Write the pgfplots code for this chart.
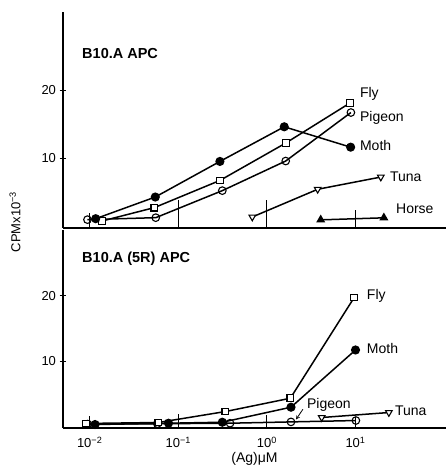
\documentclass[border=0pt]{standalone}
\usepackage{fontspec}
\setmainfont{Liberation Sans}
\usepackage{pgfplots}
\pgfplotsset{compat=1.18}
\tikzset{
  op/.style={mark=o, mark options={fill=white, line width=1.1pt}},
  fc/.style={mark=*, mark options={fill=black}},
  sq/.style={mark=square*, mark options={fill=white, line width=1.1pt}, mark size=3.4pt},
  tv/.style={mark=triangle*, mark options={fill=white, rotate=180, line width=1.1pt}},
  tf/.style={mark=triangle*, mark options={fill=black}},
  lab/.style={anchor=west, font=\fontsize{14}{14}\selectfont, inner sep=0pt},
  ttl/.style={anchor=west, font=\bfseries\fontsize{14.5}{14.5}\selectfont, inner sep=0pt},
  tk/.style={line width=0.9pt},
}
\pgfplotsset{
  every axis/.append style={
    scale only axis, width=383pt, xmin=0.005, xmax=105,
    axis lines*=left, axis line style={line width=1.1pt},
    ytick={10,20}, yticklabels={10,20},
    major tick length=7pt, tick align=center,
    tick style={line width=0.9pt, black},
    xtick style={draw=none},
    /pgf/number format/assume math mode=true,
    yticklabel style={font=\fontsize{13}{13}\selectfont},
    xticklabel style={font=\fontsize{13}{13}\selectfont},
    clip=false,
  },
  every axis plot/.append style={line width=1.5pt, black, mark size=3.8pt},
}
\begin{document}
\begin{tikzpicture}[x=1pt,y=1pt]
\useasboundingbox (-63,-44) rectangle (383,428);
% ---------- top panel ----------
\begin{semilogxaxis}[at={(0,200pt)}, anchor=south west, height=216pt,
  ymin=-0.3, ymax=31.5, xtick=\empty]
\addplot[sq] coordinates {(0.0139,0.74) (0.0537,2.7) (0.295,6.7) (1.63,12.2) (8.65,18.1)};
\addplot[op] coordinates {(0.00944,0.93) (0.0557,1.22) (0.314,5.2) (1.63,9.56) (8.87,16.7)};
\addplot[fc] coordinates {(0.0117,1.07) (0.055,4.26) (0.295,9.5) (1.57,14.6) (8.81,11.6)};
\addplot[tv] coordinates {(0.684,1.32) (3.74,5.4) (19.3,7.2)};
\addplot[tf] coordinates {(4.05,0.9) (20.9,1.2)};
\draw[tk] (axis cs:0.01,-0.3) -- (axis cs:0.01,1.9);
\draw[tk] (axis cs:0.1,-0.3) -- (axis cs:0.1,3.8);
\draw[tk] (axis cs:1,-0.3) -- (axis cs:1,3.8);
\draw[tk] (axis cs:10,-0.3) -- (axis cs:10,2.4);
\node[ttl] at (axis cs:0.0082,25.4) {B10.A APC};
\node[lab] at (axis cs:11.2,19.4) {Fly};
\node[lab] at (axis cs:11.2,15.9) {Pigeon};
\node[lab] at (axis cs:11.2,11.8) {Moth};
\node[lab] at (axis cs:24.4,7.2) {Tuna};
\node[lab] at (axis cs:28.6,2.5) {Horse};
\end{semilogxaxis}
% ---------- bottom panel ----------
\begin{semilogxaxis}[at={(0,0)}, anchor=south west, height=198pt,
  ymin=-0.2, ymax=30,
  xtick={0.01,0.1,1,10},
  xticklabels={10\textsuperscript{−2},10\textsuperscript{−1},10\textsuperscript{0},10\textsuperscript{1}},
  xticklabel style={yshift=-2pt},
  xlabel={(Ag)μM}, xlabel style={font=\fontsize{14}{14}\selectfont, yshift=2pt}]
\addplot[op] coordinates {(0.0095,0.4) (0.058,0.45) (0.384,0.53) (1.87,0.73) (10.1,0.94)};
\addplot[sq] coordinates {(0.00912,0.49) (0.0597,0.64) (0.34,2.31) (1.84,4.34) (9.66,19.7)};
\addplot[fc] coordinates {(0.0115,0.33) (0.0776,0.53) (0.314,0.68) (1.87,2.97) (10,11.7)};
\addplot[tv] coordinates {(4.15,1.4) (23.8,2.16)};
\draw[tk] (axis cs:0.01,-0.2) -- (axis cs:0.01,1.6);
\draw[tk] (axis cs:0.1,-0.2) -- (axis cs:0.1,1.9);
\draw[tk] (axis cs:1,-0.2) -- (axis cs:1,1.8);
\draw[tk] (axis cs:10,-0.2) -- (axis cs:10,1.5);
\draw[-stealth, line width=0.8pt] (axis cs:2.55,2.66) -- (axis cs:2.13,1.1);
\node[ttl] at (axis cs:0.0082,25.6) {B10.A (5R) APC};
\node[lab] at (axis cs:13.4,19.9) {Fly};
\node[lab] at (axis cs:13.4,11.9) {Moth};
\node[lab] at (axis cs:2.83,3.4) {Pigeon};
\node[lab] at (axis cs:27.8,2.36) {Tuna};
\end{semilogxaxis}
\node[rotate=90, font=\fontsize{13}{13}\selectfont] at (-48,206) {CPMx10\textsuperscript{−3}};
\end{tikzpicture}
\end{document}
